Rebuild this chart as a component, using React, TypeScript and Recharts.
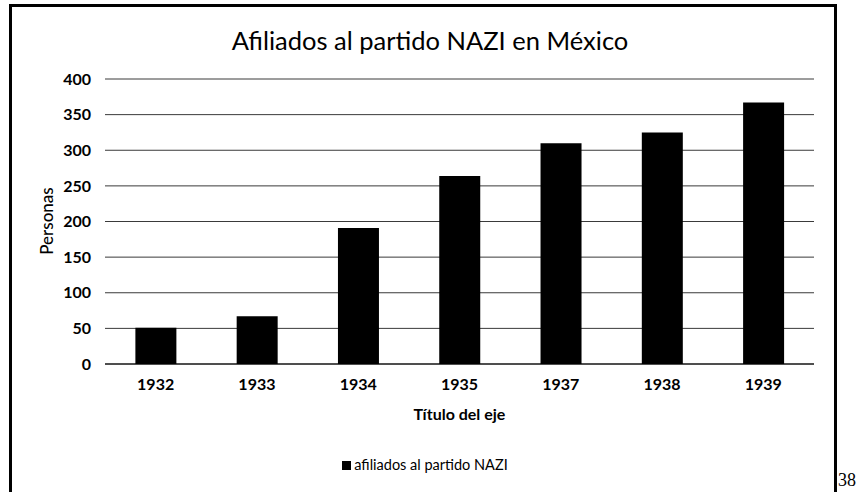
import React from "react";
import { BarChart, Bar, XAxis, YAxis, CartesianGrid } from "recharts";

const years = ["1932", "1933", "1934", "1935", "1937", "1938", "1939"];
const afiliados = [51, 67, 191, 264, 310, 325, 367];
const yTicks = [0, 50, 100, 150, 200, 250, 300, 350, 400];

const data = years.map((y, i) => ({ year: y, value: afiliados[i] }));

const font = "Lato, 'Open Sans', sans-serif";

export default function App() {
  return (
    <div style={{ position: "absolute", left: 0, top: 0, width: 858, height: 492, background: "#fff", fontFamily: font }}>
      <div
        style={{
          position: "absolute",
          left: 9,
          top: 4,
          width: 822,
          height: 488,
          borderLeft: "3px solid #000",
          borderTop: "3px solid #000",
          borderRight: "3px solid #000",
        }}
      />
      <div
        style={{
          position: "absolute",
          left: 0,
          width: 860,
          top: 25,
          textAlign: "center",
          fontSize: 25.5,
          color: "#000",
          whiteSpace: "nowrap",
        }}
      >
        Afiliados al partido NAZI en México
      </div>
      <BarChart
        width={858}
        height={492}
        data={data}
        margin={{ top: 79, right: 44, bottom: 98, left: 45 }}
        barCategoryGap="30%"
      >
        <CartesianGrid vertical={false} stroke="#3a3a3a" strokeWidth={1} />
        <XAxis
          dataKey="year"
          axisLine={{ stroke: "#000" }}
          tickLine={false}
          tickSize={0}
          tickMargin={15}
          height={30}
          tick={{ fill: "#000", fontSize: 16, fontWeight: 700, fontFamily: font }}
        />
        <YAxis
          width={60}
          domain={[0, 400]}
          ticks={yTicks}
          axisLine={false}
          tickLine={false}
          tickSize={0}
          tickMargin={14}
          tick={{ fill: "#000", fontSize: 16, fontWeight: 700, fontFamily: font }}
        />
        <Bar dataKey="value" fill="#000" isAnimationActive={false} />
      </BarChart>
      <div
        style={{
          position: "absolute",
          left: 46,
          top: 221,
          transform: "translate(-50%, -50%) rotate(-90deg)",
          fontSize: 17,
          fontWeight: 500,
          whiteSpace: "nowrap",
          color: "#000",
        }}
      >
        Personas
      </div>
      <div
        style={{
          position: "absolute",
          left: 105,
          width: 709,
          top: 404,
          textAlign: "center",
          fontSize: 16,
          fontWeight: 700,
          color: "#000",
        }}
      >
        Título del eje
      </div>
      <div
        style={{
          position: "absolute",
          left: 0,
          width: 850,
          top: 456,
          textAlign: "center",
          fontSize: 14.5,
          color: "#000",
          whiteSpace: "nowrap",
        }}
      >
        <span style={{ display: "inline-block", width: 9, height: 9, background: "#000", marginRight: 3 }} />
        afiliados al partido NAZI
      </div>
      <div
        style={{
          position: "absolute",
          left: 838,
          top: 470,
          fontFamily: "'Liberation Serif', 'DejaVu Serif', serif",
          fontSize: 18,
          color: "#000",
        }}
      >
        38
      </div>
    </div>
  );
}
